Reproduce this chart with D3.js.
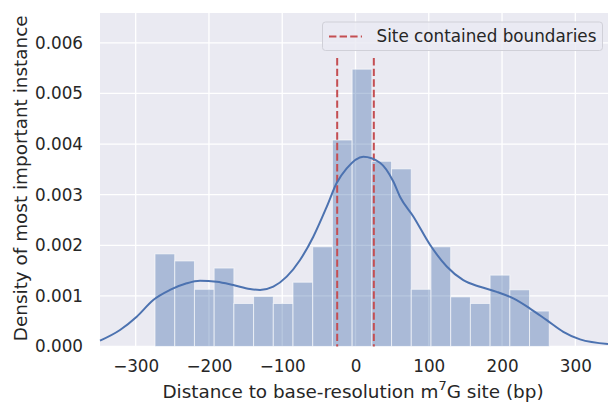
<!DOCTYPE html>
<html>
<head>
<meta charset="utf-8">
<script src="https://cdn.jsdelivr.net/npm/d3@7"></script>
<style>
  html, body { margin: 0; padding: 0; background: #ffffff; }
  svg { display: block; font-family: "DejaVu Sans", sans-serif; }
</style>
</head>
<body>
<svg id="chart" width="608" height="402"></svg>
<script>
// ---- data ----
const binEdges = [-273.6, -246.7, -219.8, -192.9, -166.0, -139.1, -112.2, -85.3, -58.4, -31.5,
                  -4.6, 22.3, 49.2, 76.1, 103.0, 129.9, 156.8, 183.7, 210.6, 237.5, 264.4];
const binDensity = [0.00183, 0.00169, 0.00113, 0.00155, 0.00085, 0.00099, 0.00085, 0.00127, 0.00197, 0.00408,
                    0.00548, 0.00366, 0.00351, 0.00113, 0.00197, 0.00098, 0.00085, 0.00141, 0.00112, 0.00070];
const kdeX = [-348.7, -321.4, -298.6, -276.0, -253.2, -230.4, -212.2, -189.4, -166.8, -144.0, -130.3, -112.2,
              -93.9, -75.7, -57.6, -39.3, -25.7, -12.0, 10.6, 33.4, 51.6, 60.7, 78.9, 101.7, 124.5, 147.1,
              169.9, 192.7, 215.4, 238.2, 261.0, 283.6, 306.4, 344.6];
const kdeY = [0.000115, 0.000326, 0.000589, 0.000919, 0.001117, 0.001249, 0.00130, 0.00128, 0.001215, 0.001136,
              0.001117, 0.001182, 0.00138, 0.00171, 0.00217, 0.00276, 0.00323, 0.00352, 0.00375, 0.00363,
              0.00326, 0.00296, 0.00257, 0.00201, 0.00158, 0.00131, 0.00118, 0.00108, 0.00095, 0.00075,
              0.00052, 0.00029, 0.00014, 0.00005];
const boundaries = [-25, 25];
const boundaryTop = 0.0057;
const xTicks = [-300, -200, -100, 0, 100, 200, 300];
const yTicks = [0, 0.001, 0.002, 0.003, 0.004, 0.005, 0.006];
const legendLabel = "Site contained boundaries";
const xLabel = "Distance to base-resolution m";
const yLabel = "Density of most important instance";

// ---- layout ----
const svg = d3.select("#chart");
const L = 100, R = 608, T = 13, B = 346.5;
const FS = 16.8, LFS = 18.4;
const x = d3.scaleLinear().domain([-348.7, 344.6]).range([L, R]);
const y = d3.scaleLinear().domain([0, 0.00659]).range([B, T]);
const blue = "#4c72b0", red = "#c44e52", txt = "#262626";

svg.append("rect").attr("x", L).attr("y", T).attr("width", R - L).attr("height", B - T).attr("fill", "#eaeaf2");

// grid
const g = svg.append("g");
g.selectAll(".vg").data(xTicks).join("line")
  .attr("x1", d => x(d)).attr("x2", d => x(d)).attr("y1", T).attr("y2", B)
  .attr("stroke", "#ffffff").attr("stroke-width", 1.3);
g.selectAll(".hg").data(yTicks).join("line")
  .attr("x1", L).attr("x2", R).attr("y1", d => y(d)).attr("y2", d => y(d))
  .attr("stroke", "#ffffff").attr("stroke-width", 1.3);

// bars
svg.append("g").selectAll("rect").data(binDensity).join("rect")
  .attr("x", (d, i) => x(binEdges[i]))
  .attr("width", (d, i) => x(binEdges[i + 1]) - x(binEdges[i]))
  .attr("y", d => y(d))
  .attr("height", d => y(0) - y(d))
  .attr("fill", blue).attr("fill-opacity", 0.4)
  .attr("stroke", "#ffffff").attr("stroke-opacity", 0.6).attr("stroke-width", 1);

// boundaries
svg.append("g").selectAll("line").data(boundaries).join("line")
  .attr("x1", d => x(d)).attr("x2", d => x(d))
  .attr("y1", y(boundaryTop)).attr("y2", y(0))
  .attr("stroke", red).attr("stroke-width", 2).attr("stroke-dasharray", "7.4,3.2");

// kde
const kdePts = kdeX.map((v, i) => [v, kdeY[i]]);
svg.append("path").datum(kdePts)
  .attr("d", d3.line().x(d => x(d[0])).y(d => y(d[1])).curve(d3.curveMonotoneX))
  .attr("fill", "none").attr("stroke", blue).attr("stroke-width", 2);

// axes (tick labels only, seaborn darkgrid style)
const xAxis = d3.axisBottom(x).tickValues(xTicks).tickSize(0).tickPadding(14)
  .tickFormat(d => d3.format("d")(d).replace("-", "\u2212"));
const xg = svg.append("g").attr("transform", `translate(0,${B})`).call(xAxis);
const yAxis = d3.axisLeft(y).tickValues(yTicks).tickSize(0).tickPadding(17)
  .tickFormat(d3.format(".3f"));
const yg = svg.append("g").attr("transform", `translate(${L},0)`).call(yAxis);
[xg, yg].forEach(a => {
  a.select(".domain").remove();
  a.selectAll("text").attr("font-size", FS).attr("fill", txt).attr("font-family", "DejaVu Sans, sans-serif");
});

// axis labels
const xl = svg.append("text").attr("x", 353).attr("y", 397.5)
  .attr("text-anchor", "middle").attr("font-size", LFS).attr("fill", txt);
xl.append("tspan").text(xLabel);
xl.append("tspan").attr("font-size", 13).attr("dy", -7.5).text("7");
xl.append("tspan").attr("dy", 7.5).text("G site (bp)");

svg.append("text").attr("transform", `translate(27.3,178.3) rotate(-90)`)
  .attr("text-anchor", "middle").attr("font-size", LFS).attr("fill", txt).text(yLabel);

// legend
const lg = svg.append("g");
lg.append("rect").attr("x", 322.5).attr("y", 22).attr("width", 280).attr("height", 28.5)
  .attr("rx", 3).attr("fill", "#eaeaf2").attr("fill-opacity", 0.8)
  .attr("stroke", "#d0d0d8").attr("stroke-width", 1);
lg.append("line").attr("x1", 329).attr("x2", 362).attr("y1", 36.5).attr("y2", 36.5)
  .attr("stroke", red).attr("stroke-width", 2).attr("stroke-dasharray", "7.4,3.2");
lg.append("text").attr("x", 376.5).attr("y", 42).attr("font-size", FS).attr("fill", txt).text(legendLabel);
</script>
</body>
</html>
